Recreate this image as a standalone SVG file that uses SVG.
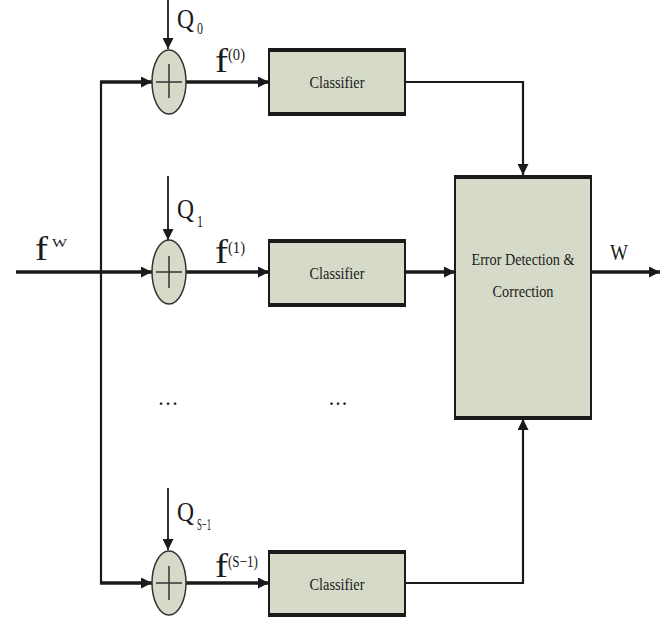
<svg xmlns="http://www.w3.org/2000/svg" width="667" height="617" viewBox="0 0 667 617">
<defs>
<marker id="ah" viewBox="0 0 10 10" refX="10" refY="5" markerWidth="12" markerHeight="11" markerUnits="userSpaceOnUse" orient="auto"><path d="M0,0 L10,5 L0,10 z" fill="#1a1a1a"/></marker>
</defs>
<style>
.box{fill:#d6dbc9;stroke:#1a1a1a;stroke-width:2}
.edge{stroke:#1a1a1a;stroke-width:4}
.sum{fill:#d6dbc9;stroke:#333;stroke-width:1.5}
.plus{stroke:#333;stroke-width:1.5}
.thick{fill:none;stroke:#1a1a1a;stroke-width:3.5}
.thin{fill:none;stroke:#1a1a1a;stroke-width:2.2}
.q{fill:none;stroke:#1a1a1a;stroke-width:1.8}
text{font-family:"Liberation Serif","Times New Roman",serif;fill:#1a1a1a}
.lbl{font-size:34px}
.sup{font-size:17px}
.ql{font-size:27px}
.sub{font-size:16px}
.cl{font-size:17px}
.dots{font-size:16px;font-weight:bold}
</style>
<rect width="667" height="617" fill="#fff"/>
<g id="connectors">
<line class="thick" x1="16" y1="272" x2="152" y2="272" marker-end="url(#ah)"/>
<line class="thin" x1="101" y1="81" x2="101" y2="584"/>
<line class="thick" x1="100" y1="82" x2="152" y2="82" marker-end="url(#ah)"/>
<line class="thick" x1="100" y1="583" x2="152" y2="583" marker-end="url(#ah)"/>
<line class="thick" x1="186" y1="82" x2="269" y2="82" marker-end="url(#ah)"/>
<line class="thick" x1="186" y1="272" x2="269" y2="272" marker-end="url(#ah)"/>
<line class="thick" x1="186" y1="583" x2="269" y2="583" marker-end="url(#ah)"/>
<line class="q" x1="168" y1="0" x2="168" y2="49" marker-end="url(#ah)"/>
<line class="q" x1="168" y1="176" x2="168" y2="240" marker-end="url(#ah)"/>
<line class="q" x1="168" y1="488" x2="168" y2="550" marker-end="url(#ah)"/>
<polyline class="thin" points="405,82 523,82 523,175" marker-end="url(#ah)"/>
<line class="thick" x1="405" y1="272" x2="455" y2="272" marker-end="url(#ah)"/>
<polyline class="thin" points="405,583 523,583 523,419" marker-end="url(#ah)"/>
<line class="thick" x1="591" y1="272" x2="660" y2="272" marker-end="url(#ah)"/>
</g>
<g id="sum0">
<ellipse class="sum" cx="169" cy="82" rx="17" ry="32"/>
<line class="plus" x1="156" y1="82" x2="182" y2="82"/><line class="plus" x1="169" y1="64" x2="169" y2="98"/>
</g>
<g id="sum1">
<ellipse class="sum" cx="169" cy="272" rx="17" ry="32"/>
<line class="plus" x1="156" y1="272" x2="182" y2="272"/><line class="plus" x1="169" y1="256" x2="169" y2="288"/>
</g>
<g id="sum2">
<ellipse class="sum" cx="169" cy="583" rx="17" ry="32"/>
<line class="plus" x1="156" y1="583" x2="182" y2="583"/><line class="plus" x1="169" y1="566" x2="169" y2="600"/>
</g>
<g id="classifier0">
<rect class="box" x="269" y="50" width="136" height="64"/>
<line class="edge" x1="268" y1="50" x2="406" y2="50"/><line class="edge" x1="268" y1="114" x2="406" y2="114"/>
<text class="cl" x="337" y="88" text-anchor="middle" textLength="55" lengthAdjust="spacingAndGlyphs">Classifier</text>
</g>
<g id="classifier1">
<rect class="box" x="269" y="241" width="136" height="64"/>
<line class="edge" x1="268" y1="241" x2="406" y2="241"/><line class="edge" x1="268" y1="305" x2="406" y2="305"/>
<text class="cl" x="337" y="279" text-anchor="middle" textLength="55" lengthAdjust="spacingAndGlyphs">Classifier</text>
</g>
<g id="classifier2">
<rect class="box" x="269" y="552" width="136" height="63"/>
<line class="edge" x1="268" y1="552" x2="406" y2="552"/><line class="edge" x1="268" y1="615" x2="406" y2="615"/>
<text class="cl" x="337" y="590" text-anchor="middle" textLength="55" lengthAdjust="spacingAndGlyphs">Classifier</text>
</g>
<g id="edc">
<rect class="box" x="455" y="177" width="136" height="241"/>
<line class="edge" x1="454" y1="177" x2="592" y2="177"/><line class="edge" x1="454" y1="418" x2="592" y2="418"/>
<text class="cl" x="523" y="265" text-anchor="middle" textLength="103" lengthAdjust="spacingAndGlyphs">Error Detection &amp;</text>
<text class="cl" x="523" y="297" text-anchor="middle" textLength="61" lengthAdjust="spacingAndGlyphs">Correction</text>
</g>
<g id="labels">
<text class="lbl" x="35" y="260" textLength="13" lengthAdjust="spacingAndGlyphs">f</text>
<text x="52" y="247" font-size="13" textLength="15" lengthAdjust="spacingAndGlyphs">W</text>
<text class="lbl" x="215" y="72" textLength="13" lengthAdjust="spacingAndGlyphs">f</text>
<text class="sup" x="228" y="60" textLength="17" lengthAdjust="spacingAndGlyphs">(0)</text>
<text class="lbl" x="215" y="263" textLength="13" lengthAdjust="spacingAndGlyphs">f</text>
<text class="sup" x="228" y="253" textLength="17" lengthAdjust="spacingAndGlyphs">(1)</text>
<text class="lbl" x="215" y="577" textLength="13" lengthAdjust="spacingAndGlyphs">f</text>
<text class="sup" x="228" y="567" textLength="30" lengthAdjust="spacingAndGlyphs">(S−1)</text>
<text class="ql" x="177" y="28" textLength="17" lengthAdjust="spacingAndGlyphs">Q</text>
<text class="sub" x="197" y="34" textLength="6" lengthAdjust="spacingAndGlyphs">0</text>
<text class="ql" x="177" y="218" textLength="17" lengthAdjust="spacingAndGlyphs">Q</text>
<text class="sub" x="197" y="227" textLength="6" lengthAdjust="spacingAndGlyphs">1</text>
<text class="ql" x="177" y="521" textLength="17" lengthAdjust="spacingAndGlyphs">Q</text>
<text class="sub" x="197" y="530" textLength="14" lengthAdjust="spacingAndGlyphs">S−1</text>
<text x="610" y="260" font-size="24" textLength="18" lengthAdjust="spacingAndGlyphs">W</text>
<text class="dots" x="168" y="405" text-anchor="middle" textLength="18" lengthAdjust="spacing">...</text>
<text class="dots" x="338" y="405" text-anchor="middle" textLength="17" lengthAdjust="spacing">...</text>
</g>
</svg>
